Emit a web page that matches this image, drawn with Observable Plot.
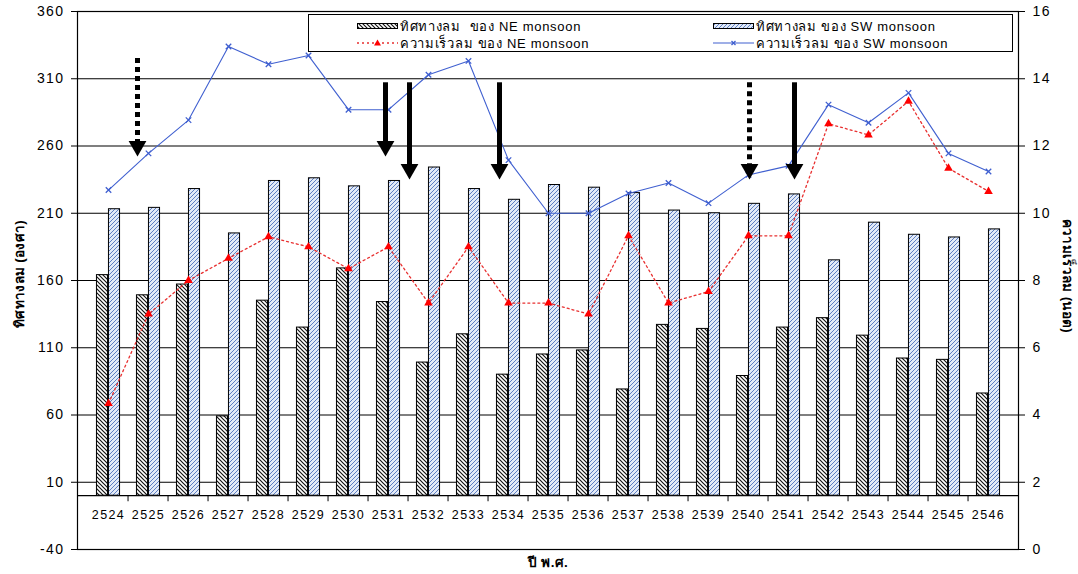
<!DOCTYPE html>
<html><head><meta charset="utf-8">
<script src="https://cdn.jsdelivr.net/npm/d3@7"></script>
<script src="https://cdn.jsdelivr.net/npm/@observablehq/plot@0.6"></script>
<style>
body{margin:0;background:#fff;font-family:"Liberation Sans","Noto Sans",Arial,sans-serif;}
#wrap{position:relative;width:1078px;height:574px;overflow:hidden;}
#wrap svg.plot text{letter-spacing:1.4px;}
.legend{position:absolute;left:308px;top:14px;width:703px;height:36px;border:1.5px solid #000;background:#fff;font-size:13px;letter-spacing:0.7px;}
.legend .item{position:absolute;display:flex;align-items:center;white-space:pre;height:16px;}
.legend svg{margin-right:2px;}
.title{position:absolute;font-weight:bold;font-size:13.5px;white-space:nowrap;letter-spacing:0.3px;}
</style></head>
<body>
<div id="wrap">
<svg width="0" height="0" style="position:absolute">
  <defs>
    <pattern id="hNE" patternUnits="userSpaceOnUse" width="4" height="4">
      <rect width="4" height="4" fill="#fff"/>
      <path d="M0,0 L4,4 M-1,3 L1,5 M3,-1 L5,1" stroke="#111" stroke-width="1.15"/>
    </pattern>
    <pattern id="hSW" patternUnits="userSpaceOnUse" width="4" height="4">
      <rect width="4" height="4" fill="#e2eaf7"/>
      <path d="M0,4 L4,0 M-1,1 L1,-1 M3,5 L5,3" stroke="#5f7fc2" stroke-width="1"/>
    </pattern>
  </defs>
</svg>
</div>
<script>
const years = ["2524","2525","2526","2527","2528","2529","2530","2531","2532","2533","2534","2535","2536","2537","2538","2539","2540","2541","2542","2543","2544","2545","2546"];
const neDirection = [164,149,157,59,145,125,169,144,99,120,90,105,108,79,127,124,89,125,132,119,102,101,76];
const swDirection = [213,214,228,195,234,236,230,234,244,228,220,231,229,225,212,210,217,224,175,203,194,192,198];
const neSpeed = [4.34,7.0,8.0,8.66,9.3,9.0,8.35,9.0,7.33,9.0,7.33,7.33,7.0,9.33,7.33,7.67,9.33,9.33,12.66,12.33,13.33,11.34,10.65];
const swSpeed = [10.69,11.78,12.77,14.96,14.43,14.69,13.08,13.08,14.12,14.53,11.58,10.0,10.0,10.59,10.9,10.3,11.14,11.41,13.23,12.69,13.58,11.78,11.24];
const leftTicks = [-40,10,60,110,160,210,260,310,360];
const rightTicks = [0,2,4,6,8,10,12,14,16];
const gridValues = [10,60,110,160,210,260,310];
// annotation arrows (year, dashed?, shift within band, start and tip in degrees)
const arrowYears = ["2525","2531","2532","2534","2540","2541"];
const arrowDashed = [true,false,false,false,true,false];
const arrowShift = [-11,-3,-19,-9,1,6];
const arrowFrom = [325,307,307,307,307,307];
const arrowTo = [256,256,239,239,239,239];

const labels = {
  neDir:"ทิศทางลม  ของ NE monsoon",
  swDir:"ทิศทางลม ของ SW monsoon",
  neSpd:"ความเร็วลม ของ NE monsoon",
  swSpd:"ความเร็วลม ของ SW monsoon",
  yLeft:"ทิศทางลม (องศา)",
  yRight:"ความเร็วลม (นอต)",
  x:"ปี พ.ศ."
};

const W=1078,H=574,mL=77,mR=60,mT=11,mB=25;
const bw=(W-mL-mR)/years.length;
const barW=12;
const toLeft = s => -40 + 25*s;
const rows = years.map((y,i)=>({year:y, ne:neDirection[i], sw:swDirection[i], nes:toLeft(neSpeed[i]), sws:toLeft(swSpeed[i])}));
const arrows = arrowYears.map((y,i)=>({year:y, dashed:arrowDashed[i], dx:arrowShift[i], from:arrowFrom[i], to:arrowTo[i]}));
const headR = 6.6;
const headOff = 2*Math.sqrt(Math.PI*headR*headR/(3*Math.sqrt(3)));
const ky = (H-mT-mB)/400;

const marks = [
  Plot.ruleY(gridValues,{stroke:"#000",strokeWidth:1.2}),
  Plot.ruleY([0],{stroke:"#000",strokeWidth:1.2}),
  Plot.barY(rows,{x:"year",y1:0,y2:"ne",fill:"url(#hNE)",stroke:"#000",strokeWidth:1,insetLeft:bw/2-barW,insetRight:bw/2}),
  Plot.barY(rows,{x:"year",y1:0,y2:"sw",fill:"url(#hSW)",stroke:"#000",strokeWidth:1,insetLeft:bw/2,insetRight:bw/2-barW}),
  Plot.ruleX(rows.slice(1),{x:"year",y1:0,y2:-4.5,dx:-bw/2,stroke:"#000"}),
  Plot.line(rows,{x:"year",y:"nes",stroke:"#e83030",strokeWidth:1.3,strokeDasharray:"2,3"}),
  Plot.dot(rows,{x:"year",y:"nes",symbol:"triangle",fill:"#ff0000",r:3.2}),
  Plot.line(rows,{x:"year",y:"sws",stroke:"#4060d0",strokeWidth:1.1}),
  Plot.dot(rows,{x:"year",y:"sws",symbol:"times",stroke:"#3f5fd0",strokeWidth:1.3,r:2.6})
];
for (const a of arrows) {
  marks.push(Plot.ruleX([a],{x:"year",y1:"from",y2:d=>d.to + (headOff-2)/ky,dx:a.dx,stroke:"#000",strokeWidth:5,strokeDasharray:a.dashed?"5,4":null}));
  marks.push(Plot.dot([a],{x:"year",y:"to",dx:a.dx,dy:-headOff/2,symbol:"triangle",rotate:180,fill:"#000",r:headR}));
}
marks.push(
  Plot.axisY({anchor:"left",ticks:leftTicks,tickFormat:v=>String(v),tickSize:6,tickPadding:7,label:null,fontSize:14}),
  Plot.axisY({anchor:"right",ticks:rightTicks.map(toLeft),tickFormat:v=>String(Math.round((v+40)/25)),tickSize:6,tickPadding:8,label:null,fontSize:14}),
  Plot.axisX({anchor:"bottom",tickSize:0,tickPadding:0,dy:-39,label:null,fontSize:12.5}),
  Plot.frame({stroke:"#000",strokeWidth:1.2})
);

const chart = Plot.plot({
  width:W,height:H,marginLeft:mL,marginRight:mR,marginTop:mT,marginBottom:mB,
  style:{fontFamily:'"Liberation Sans","Noto Sans",Arial,sans-serif',background:"#fff",color:"#000",overflow:"visible"},
  x:{type:"band",domain:years,padding:0},
  y:{domain:[-40,360]},
  marks
});
chart.classList.add("plot");
const wrap=document.getElementById("wrap");
wrap.appendChild(chart);

function swatchBar(id){return `<svg width="41" height="8"><rect x="0.5" y="1.5" width="40" height="5" fill="url(#${id})" stroke="#000"/></svg>`;}
const swatchNE = `<svg width="41" height="10"><line x1="0" y1="5" x2="41" y2="5" stroke="#e83030" stroke-width="1.3" stroke-dasharray="2,3"/><path d="M20.5,1.5 L24,7.5 L17,7.5 Z" fill="#ff0000"/></svg>`;
const swatchSW = `<svg width="41" height="10"><line x1="0" y1="5" x2="41" y2="5" stroke="#4060d0" stroke-width="1.1"/><path d="M18.5,3 L22.5,7 M22.5,3 L18.5,7" stroke="#3f5fd0" stroke-width="1.3"/></svg>`;
const legend=document.createElement("div");
legend.className="legend";
legend.innerHTML=`<div class="item" style="left:48px;top:3px">${swatchBar("hNE")}<span>${labels.neDir}</span></div><div class="item" style="left:404px;top:3px">${swatchBar("hSW")}<span>${labels.swDir}</span></div><div class="item" style="left:48px;top:20px">${swatchNE}<span>${labels.neSpd}</span></div><div class="item" style="left:404px;top:20px">${swatchSW}<span>${labels.swSpd}</span></div>`;
wrap.appendChild(legend);

function addTitle(text,cx,cy,rot){
  const d=document.createElement("div");
  d.className="title";d.textContent=text;
  wrap.appendChild(d);
  const w=d.offsetWidth,h=d.offsetHeight;
  d.style.left=(cx-w/2)+"px";d.style.top=(cy-h/2)+"px";
  if(rot) d.style.transform=`rotate(${rot}deg)`;
}
addTitle(labels.yLeft,19,274,-90);
addTitle(labels.yRight,1068,276,90);
addTitle(labels.x,548,562,0);
</script>
</body></html>
